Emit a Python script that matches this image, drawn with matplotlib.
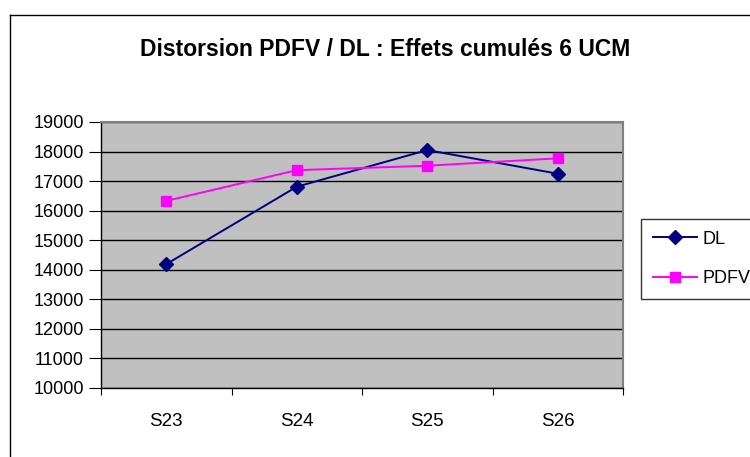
import matplotlib.pyplot as plt
from matplotlib.lines import Line2D

plt.rcParams['font.family'] = ['Liberation Sans', 'DejaVu Sans']

semaines = ["S23", "S24", "S25", "S26"]
dl = [14190, 16810, 18050, 17250]
pdfv = [16330, 17370, 17520, 17770]

fig = plt.figure(figsize=(7.5, 4.57), dpi=100)
W, H = 750, 457

# cadre de la zone graphique
fig.add_artist(Line2D([10 / W, 10 / W], [0, 1 - 15 / H], color="black", lw=1))
fig.add_artist(Line2D([10 / W, 1], [1 - 15 / H, 1 - 15 / H], color="black", lw=1))

ax = fig.add_axes([101 / W, 1 - 388 / H, (623 - 101) / W, (388 - 122) / H])
ax.set_facecolor("#c0c0c0")

x = list(range(len(semaines)))
ax.plot(x, dl, color="#000080", marker="D", markersize=7, lw=1.4, label="DL", zorder=3)
ax.plot(x, pdfv, color="#ff00ff", marker="s", markersize=7, lw=1.4, label="PDFV", zorder=3)

ax.set_ylim(10000, 19000)
ax.set_yticks(range(10000, 19001, 1000))
ax.set_xlim(-0.5, 3.5)
ax.set_xticks([-0.5, 0.5, 1.5, 2.5, 3.5])
ax.set_xticklabels([])
ax.set_xticks(x, minor=True)
ax.set_xticklabels(semaines, minor=True)
ax.tick_params(axis="x", which="minor", length=0, pad=18, labelsize=13.5)
ax.tick_params(axis="x", which="major", length=5, direction="out", color="black")
ax.tick_params(axis="y", length=9, direction="out", labelsize=13, pad=3.5)

ax.grid(axis="y", color="black", lw=1)
ax.set_axisbelow(True)
for s in ["top", "right"]:
    ax.spines[s].set_color("#808080")
    ax.spines[s].set_linewidth(1.5)
for s in ["left", "bottom"]:
    ax.spines[s].set_color("black")
    ax.spines[s].set_linewidth(1)

fig.text(385 / W, 1 - 50 / H, "Distorsion PDFV / DL : Effets cumulés 6 UCM",
         ha="center", va="center", fontsize=16.5, fontweight="bold")

leg = fig.legend(loc="upper left", bbox_to_anchor=(641 / W, 1 - 219 / H),
                 frameon=True, fancybox=False, fontsize=13, handlelength=2.45,
                 handletextpad=0.28, borderpad=0.65, labelspacing=1.25, borderaxespad=0)
leg.get_frame().set_edgecolor("black")
leg.get_frame().set_linewidth(1)

fig.savefig("out.png", dpi=100)
